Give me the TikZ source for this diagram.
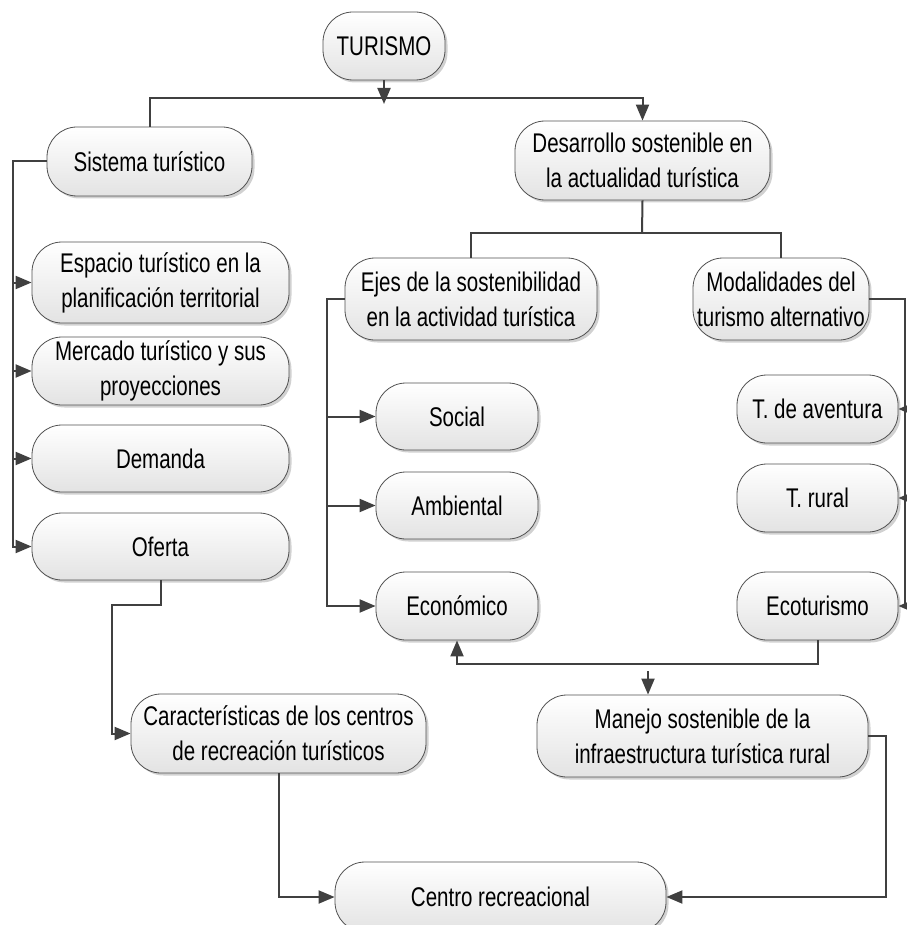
\documentclass[tikz,border=0pt]{standalone}
\usepackage{fontspec}
\setmainfont{Liberation Sans}[FakeStretch=0.76]
\usetikzlibrary{arrows.meta,shadows}
\definecolor{lncol}{HTML}{404040}
\definecolor{bordercol}{HTML}{505050}
\begin{document}
\begin{tikzpicture}[x=1pt,y=-1pt,
  box/.style={draw=bordercol, line width=0.8pt, rounded corners=30pt,
    top color=white, bottom color=black!11, align=center, inner sep=0pt,
    font=\fontsize{27}{35}\selectfont,
    drop shadow={shadow xshift=2.5pt, shadow yshift=-2.5pt, fill=black, opacity=0.18}},
  ln/.style={draw=lncol, line width=2pt},
  arr/.style={ln, -{Triangle[length=16pt,width=13pt]}}]
\useasboundingbox (0,0) rectangle (906,925);
% nodes
\node[box, minimum width=122pt, minimum height=68pt] (tur) at (384,46) {TURISMO};
\node[box, minimum width=205pt, minimum height=69pt] (sis) at (149.5,161.5) {Sistema turístico};
\node[box, minimum width=255pt, minimum height=79pt] (des) at (642.5,160.5) {Desarrollo sostenible en\\la actualidad turística};
\node[box, minimum width=257pt, minimum height=81pt] (esp) at (160.5,282.5) {Espacio turístico en la\\planificación territorial};
\node[box, minimum width=257pt, minimum height=68pt] (mer) at (160.5,371) {Mercado turístico y sus\\proyecciones};
\node[box, minimum width=257pt, minimum height=67pt] (dem) at (160.5,458.5) {Demanda};
\node[box, minimum width=257pt, minimum height=67pt] (ofe) at (160.5,546.5) {Oferta};
\node[box, minimum width=252pt, minimum height=82pt] (eje) at (471,299) {Ejes de la sostenibilidad\\en la actividad turística};
\node[box, minimum width=176pt, minimum height=82pt] (mod) at (781,299) {Modalidades del\\turismo alternativo};
\node[box, minimum width=162pt, minimum height=67pt] (soc) at (457,416.5) {Social};
\node[box, minimum width=162pt, minimum height=67pt] (amb) at (457,505.5) {Ambiental};
\node[box, minimum width=162pt, minimum height=68pt] (eco) at (457,606) {Económico};
\node[box, minimum width=161pt, minimum height=68pt] (ave) at (817.5,409) {T. de aventura};
\node[box, minimum width=161pt, minimum height=68pt] (rur) at (817.5,498) {T. rural};
\node[box, minimum width=161pt, minimum height=68pt] (ecot) at (817.5,606) {Ecoturismo};
\node[box, minimum width=295pt, minimum height=79pt] (car) at (278.5,733.5) {Características de los centros\\de recreación turísticos};
\node[box, minimum width=331pt, minimum height=82pt] (man) at (702.5,736) {Manejo sostenible de la\\infraestructura turística rural};
\node[box, minimum width=331pt, minimum height=70pt] (cen) at (500.5,897) {Centro recreacional};
% helper coordinates
\coordinate (j0) at (384,98);
\coordinate (lb) at (13,0);
\coordinate (c1) at (112,605);
\coordinate (j1) at (642,233);
\coordinate (eb) at (327,0);
\coordinate (rb) at (905,0);
\coordinate (c2) at (0,664);
\coordinate (c3) at (648,671);
\coordinate (c4) at (886,0);
% connectors
\draw[arr] (tur.south) -- (384,104);
\draw[arr] (sis.north) -- (sis.north |- j0) -- (des.north |- j0) -- (des.north);
\draw[arr] (sis.west) -| (lb |- ofe.west) -- (ofe.west);
\draw[arr] (lb |- esp.west) -- (esp.west);
\draw[arr] (lb |- mer.west) -- (mer.west);
\draw[arr] (lb |- dem.west) -- (dem.west);
\draw[arr] (ofe.south) |- (c1) |- (car.west);
\draw[arr] (car.south) |- (cen.west);
\draw[ln] (des.south) -- (j1);
\draw[ln] (eje.north) |- (j1) -| (mod.north);
\draw[arr] (eje.west) -| (eb |- eco.west) -- (eco.west);
\draw[arr] (eb |- soc.west) -- (soc.west);
\draw[arr] (eb |- amb.west) -- (amb.west);
\draw[arr] (mod.east) -| (rb |- ecot.east) -- (ecot.east);
\draw[arr] (rb |- ave.east) -- (ave.east);
\draw[arr] (rb |- rur.east) -- (rur.east);
\draw[arr] (ecot.south) |- (eco.south |- c2) -- (eco.south);
\draw[arr] (c3) -- (c3 |- man.north);
\draw[arr] (man.east) -| (c4 |- cen.east) -- (cen.east);
\end{tikzpicture}
\end{document}
